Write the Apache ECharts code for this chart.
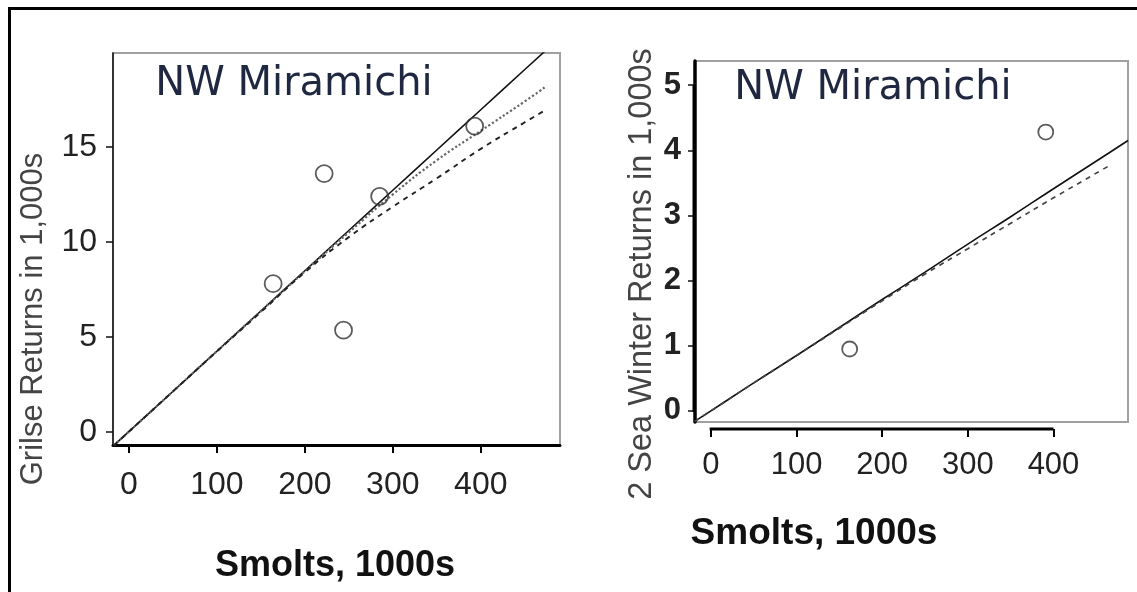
<!DOCTYPE html>
<html>
<head>
<meta charset="utf-8">
<script src="https://cdn.jsdelivr.net/npm/echarts@6/dist/echarts.min.js"></script>
<style>
html,body{margin:0;padding:0;background:#fff;}
#chart{width:1137px;height:592px;}
</style>
</head>
<body>
<div id="chart"></div>
<script>
// ---- Data ----
const panelTitle = 'NW Miramichi';
const xAxisName = 'Smolts, 1000s';
const leftYName = 'Grilse Returns in 1,000s';
const rightYName = '2 Sea Winter Returns in 1,000s';

const xTicks = [0, 100, 200, 300, 400];
const leftYTicks = [0, 5, 10, 15];
const rightYTicks = [0, 1, 2, 3, 4, 5];

// Left panel: observed grilse returns vs smolts
const leftSmolts = [164, 222, 244, 285, 393];
const leftGrilse = [7.8, 13.6, 5.35, 12.4, 16.1];
// Left panel fitted curves
const leftCurveX   = [-17, 0, 50, 100, 150, 200, 250, 300, 350, 400, 450, 473];
const leftSolid    = [-0.72, 0, 2.12, 4.24, 6.36, 8.48, 10.6, 12.72, 14.84, 16.96, 19.08, 20.05];
const leftDotted   = [-0.72, 0, 2.12, 4.24, 6.35, 8.45, 10.5, 12.5, 14.3, 15.85, 17.4, 18.15];
const leftDashed   = [-0.72, 0, 2.12, 4.23, 6.3, 8.4, 10.25, 11.85, 13.35, 14.9, 16.3, 16.93];

// Right panel: observed 2SW returns vs smolts
const rightSmolts = [162, 391];
const rightReturns = [0.95, 4.28];
// Right panel fitted curves
const rightCurveX  = [-19, 0, 50, 100, 150, 200, 250, 300, 350, 400, 466, 487];
const rightSolid   = [-0.16, 0, 0.43, 0.85, 1.28, 1.71, 2.13, 2.56, 2.98, 3.41, 3.97, 4.15];
const rightDashed  = [-0.16, 0, 0.43, 0.85, 1.27, 1.69, 2.1, 2.49, 2.88, 3.27, 3.77, null];

// ---- Build chart ----
const zip = (xs, ys) => xs.map((x, i) => [x, ys[i]]).filter(p => p[1] !== null);

const L = { xMin: -18, xMax: 490, yMin: -0.7, yMax: 19.95 };
const R = { xMin: -18.6, xMax: 487, yMin: -0.17, yMax: 5.37 };

const tickFont = 'Liberation Sans, Arial, sans-serif';

function xAxisCfg(gi, lim, fontSize, margin, offset, showLine) {
  return {
    type: 'value', gridIndex: gi, min: lim.xMin, max: lim.xMax,
    offset: offset,
    splitLine: { show: false },
    axisLine: { show: showLine, onZero: false, lineStyle: { color: '#000', width: 3 } },
    axisTick: { show: true, customValues: xTicks, length: 8, lineStyle: { color: '#000', width: 2 } },
    axisLabel: { customValues: xTicks, fontSize: fontSize, color: '#222', margin: margin, fontFamily: tickFont }
  };
}
function yAxisCfg(gi, lim, ticks, fontSize, margin, bold, showLine, lineW, lineColor) {
  return {
    type: 'value', gridIndex: gi, min: lim.yMin, max: lim.yMax,
    splitLine: { show: false },
    axisLine: { show: showLine, onZero: false, lineStyle: { color: lineColor, width: lineW } },
    axisTick: { show: true, customValues: ticks, length: 7, lineStyle: { color: '#111', width: 1.5 } },
    axisLabel: { customValues: ticks, fontSize: fontSize, color: '#222', margin: margin,
                 fontWeight: bold ? 'bold' : 'normal', fontFamily: tickFont }
  };
}
function curve(name, gi, xs, ys, type, color, width) {
  return {
    name: name, type: 'line', xAxisIndex: gi, yAxisIndex: gi,
    data: zip(xs, ys), symbol: 'none', smooth: true, silent: true,
    lineStyle: { color: color, width: width, type: type }, z: 3
  };
}
function pts(name, gi, xs, ys, size) {
  return {
    name: name, type: 'scatter', xAxisIndex: gi, yAxisIndex: gi,
    data: zip(xs, ys), symbol: 'circle', symbolSize: size,
    itemStyle: { color: 'rgba(255,255,255,0)', borderColor: '#333', borderWidth: 1.8 }, z: 5
  };
}

const textGraphics = [
  // outer frame
  { id: 'frame', type: 'rect', shape: { x: 9.5, y: 8.5, width: 1140, height: 600 },
    style: { fill: 'none', stroke: '#000', lineWidth: 3 }, z: 100 },
  // panel titles
  { id: 't1', type: 'text', x: 294, y: 85, z: 50,
    style: { text: panelTitle, font: '40px "DejaVu Sans", sans-serif', fill: '#1f2840', textAlign: 'center', textVerticalAlign: 'middle' } },
  { id: 't2', type: 'text', x: 873, y: 89, z: 50,
    style: { text: panelTitle, font: '40px "DejaVu Sans", sans-serif', fill: '#1f2840', textAlign: 'center', textVerticalAlign: 'middle' } },
  // x axis names
  { id: 'xn1', type: 'text', x: 335, y: 566, z: 50,
    style: { text: xAxisName, font: 'bold 36px "Liberation Sans", Arial, sans-serif', fill: '#111', textAlign: 'center', textVerticalAlign: 'middle' } },
  { id: 'xn2', type: 'text', x: 814, y: 534, z: 50,
    style: { text: xAxisName, font: 'bold 37px "Liberation Sans", Arial, sans-serif', fill: '#111', textAlign: 'center', textVerticalAlign: 'middle' } },
  // y axis names
  { id: 'yn1', type: 'text', x: 33, y: 319, rotation: Math.PI / 2, z: 50,
    style: { text: leftYName, font: '31px "Liberation Sans", Arial, sans-serif', fill: '#444', textAlign: 'center', textVerticalAlign: 'middle' } },
  { id: 'yn2', type: 'text', x: 642, y: 274, rotation: Math.PI / 2, z: 50,
    style: { text: rightYName, font: '32.5px "Liberation Sans", Arial, sans-serif', fill: '#444', textAlign: 'center', textVerticalAlign: 'middle' } }
];

const option = {
  backgroundColor: '#fff',
  animation: false,
  grid: [
    { left: 113, top: 53, width: 447, height: 392, show: true, borderColor: '#a0a0a0', borderWidth: 2 },
    { left: 695, top: 61, width: 433, height: 361, show: true, borderColor: '#a0a0a0', borderWidth: 2 }
  ],
  xAxis: [
    xAxisCfg(0, L, 32, 24, 0, true),
    xAxisCfg(1, R, 31, 21, 7, false)
  ],
  yAxis: [
    yAxisCfg(0, L, leftYTicks, 32, 16, false, true, 1.5, '#111'),
    yAxisCfg(1, R, rightYTicks, 31, 14, true, true, 3.5, '#000')
  ],
  series: [
    curve('Left solid', 0, leftCurveX, leftSolid, 'solid', '#111', 1.6),
    curve('Left dotted', 0, leftCurveX, leftDotted, 'dotted', '#666', 2.2),
    curve('Left dashed', 0, leftCurveX, leftDashed, [5, 5], '#222', 1.9),
    pts('Left observed', 0, leftSmolts, leftGrilse, 17),
    curve('Right solid', 1, rightCurveX, rightSolid, 'solid', '#111', 1.6),
    curve('Right dashed', 1, rightCurveX, rightDashed, [5, 5], '#444', 1.7),
    pts('Right observed', 1, rightSmolts, rightReturns, 15),
    // R-style partial x axis line on the right panel (from first to last tick)
    {
      type: 'line', xAxisIndex: 1, yAxisIndex: 1, silent: true, clip: false, symbol: 'none',
      data: [[xTicks[0] - 1.5, R.yMin - 7 / 65.2], [xTicks[xTicks.length - 1], R.yMin - 7 / 65.2]],
      lineStyle: { color: '#000', width: 3 }, z: 6
    }
  ],
  graphic: textGraphics
};

const chart = echarts.init(document.getElementById('chart'), null, { renderer: 'canvas' });
chart.setOption(option);

// R-style y axis line on the right panel, from the first to the last tick,
// positioned through the chart's own coordinate conversion
const pBottom = chart.convertToPixel({ xAxisIndex: 1, yAxisIndex: 1 }, [R.xMin, rightYTicks[0]]);
const pTop = chart.convertToPixel({ xAxisIndex: 1, yAxisIndex: 1 }, [R.xMin, rightYTicks[rightYTicks.length - 1]]);
if (pBottom && pTop && isFinite(pBottom[0]) && isFinite(pTop[1])) {
  chart.setOption({
    graphic: textGraphics.concat([
      { id: 'ryaxis', type: 'rect', z: 90, silent: true,
        shape: { x: pBottom[0] - 2.5, y: pTop[1], width: 3.5, height: pBottom[1] - pTop[1] + 1 },
        style: { fill: '#000' } }
    ])
  });
}
</script>
</body>
</html>
